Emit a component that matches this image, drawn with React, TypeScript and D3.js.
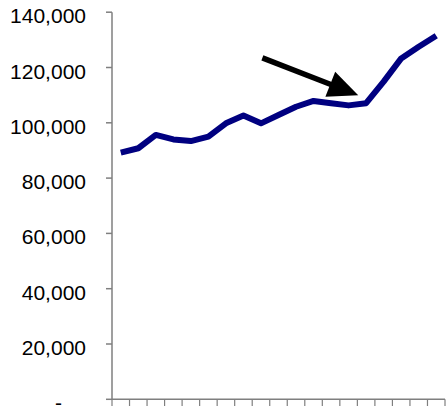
import React, { useEffect } from "react";
import * as d3 from "d3";

const categories: number[] = d3.range(19);
const values: number[] = [
  89200, 90800, 95600, 94000, 93400, 95000, 99800, 102600, 99800, 102800,
  105800, 107900, 107100, 106300, 107100, 114900, 123300, 127500, 131500,
];
const yTicks: number[] = [0, 20000, 40000, 60000, 80000, 100000, 120000, 140000];
// annotation arrow in data space: [category position, value]
const arrowStart: [number, number] = [8.08, 123500];
const arrowTip: [number, number] = [13.55, 110000];

const W = 446;
const H = 406;

export default function App() {
  useEffect(() => {
    document.body.style.margin = "0";
  }, []);

  const x = d3.scaleBand<number>().domain(categories).range([112, 445]).padding(0);
  const y = d3.scaleLinear().domain([0, 140000]).range([399.3, 12.2]);
  const bw = x.bandwidth();
  const cx = (i: number) => (x(i) as number) + bw / 2;
  const xPos = (v: number) => 112 + (v + 0.5) * bw;

  const line = d3
    .line<number>()
    .x((_, i) => cx(categories[i]))
    .y((d) => y(d));

  const fmt = (v: number) => (v === 0 ? "-" : d3.format(",")(v));
  const axisColor = "#7f7f7f";

  const sx = xPos(arrowStart[0]);
  const sy = y(arrowStart[1]);
  const tx = xPos(arrowTip[0]);
  const ty = y(arrowTip[1]);
  const len = Math.hypot(tx - sx, ty - sy);
  const ux = (tx - sx) / len;
  const uy = (ty - sy) / len;
  const headLen = 30;
  const headHalf = 13.5;
  const bx = tx - ux * headLen;
  const by = ty - uy * headLen;
  const head = [
    [tx, ty],
    [bx - uy * headHalf, by + ux * headHalf],
    [bx + uy * headHalf, by - ux * headHalf],
  ];

  const xTickPos = [...categories.map((c) => x(c) as number), 445];

  return (
    <svg width={W} height={H} style={{ display: "block" }} fontFamily="'Liberation Sans', Arial, sans-serif">
      <rect width={W} height={H} fill="#fff" />
      {/* y axis */}
      <line x1={112} x2={112} y1={y(140000)} y2={y(0)} stroke={axisColor} strokeWidth={1.5} />
      {yTicks.map((t) => (
        <g key={t}>
          <line x1={106} x2={112} y1={y(t)} y2={y(t)} stroke={axisColor} strokeWidth={1.5} />
          <text
            x={t === 0 ? 62 : 86}
            y={y(t) + 11}
            textAnchor="end"
            fontSize={21}
            fill="#000"
          >
            {fmt(t)}
          </text>
        </g>
      ))}
      {/* x axis */}
      <line x1={112} x2={445} y1={y(0)} y2={y(0)} stroke={axisColor} strokeWidth={1.5} />
      {xTickPos.map((p, i) => (
        <line key={i} x1={p} x2={p} y1={y(0)} y2={y(0) + 7} stroke={axisColor} strokeWidth={1.2} />
      ))}
      {/* series */}
      <path d={line(values) || ""} fill="none" stroke="#000080" strokeWidth={6} strokeLinejoin="round" />
      {/* arrow annotation */}
      <line x1={sx} y1={sy} x2={bx + ux * 2} y2={by + uy * 2} stroke="#000" strokeWidth={5.5} />
      <polygon points={head.map((p) => p.join(",")).join(" ")} fill="#000" />
    </svg>
  );
}
